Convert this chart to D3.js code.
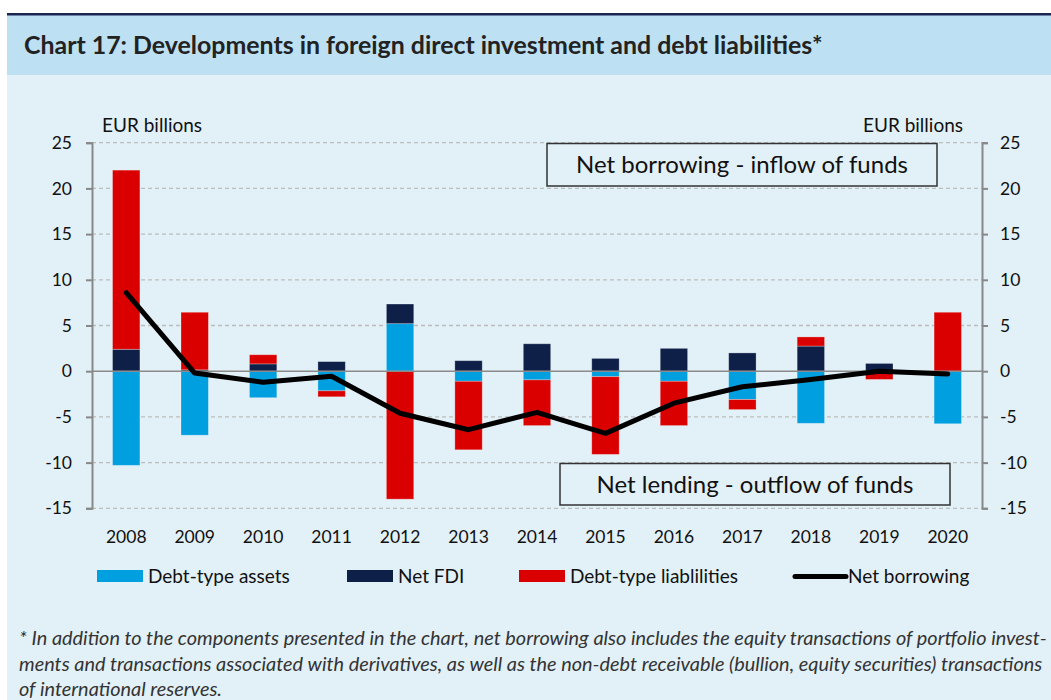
<!DOCTYPE html>
<html>
<head>
<meta charset="utf-8">
<script src="https://cdn.jsdelivr.net/npm/d3@7"></script>
<style>
body{margin:0;background:#fff;}
text{font-family:Lato,"Open Sans",sans-serif;fill:#111;}
</style>
</head>
<body>
<script>
var years=['2008','2009','2010','2011','2012','2013','2014','2015','2016','2017','2018','2019','2020'];
var debtAssets=[-10.3,-7.0,-2.9,-2.15,5.2,-1.1,-0.95,-0.6,-1.1,-3.1,-5.7,0,-5.75];
var netFdi=[2.4,0.15,0.8,1.05,2.15,1.15,3.0,1.4,2.5,2.0,2.75,0.85,0];
var debtLiab=[19.6,6.3,1.0,-0.65,-14.0,-7.5,-5.0,-8.5,-4.85,-1.1,1.0,-0.9,6.45];
var netBorrowing=[8.6,-0.2,-1.2,-0.55,-4.6,-6.4,-4.5,-6.8,-3.5,-1.7,-0.9,0,-0.3];
var yTicks=[-15,-10,-5,0,5,10,15,20,25];

var width=1051,height=700;
var plotLeft=92,plotRight=982,plotTop=142.7,plotBottom=508.3;

var svg=d3.select('body').append('svg')
.attr('width',width)
.attr('height',height);

// background panels
svg.append('rect').attr('x',7).attr('y',15).attr('width',width-7).attr('height',height-15).attr('fill','#e2f0f7');
svg.append('rect').attr('x',7).attr('y',15).attr('width',width-7).attr('height',60).attr('fill','#bde0f2');
svg.append('rect').attr('x',7).attr('y',13).attr('width',width-7).attr('height',2.5).attr('fill','#1c2452');

svg.append('text')
.attr('x',24).attr('y',54)
.style('font-size','24.9px').style('font-weight','bold')
.style('fill','#222')
.text('Chart 17: Developments in foreign direct investment and debt liabilities*');

var x=d3.scaleBand().domain(years).range([plotLeft,plotRight]).paddingInner(0.6).paddingOuter(0.3);
var y=d3.scaleLinear().domain([-15,25]).range([plotBottom,plotTop]);

// gridlines
svg.append('g').selectAll('line')
.data(yTicks.filter(d=>d!==0))
.enter().append('line')
.attr('x1',plotLeft).attr('x2',plotRight)
.attr('y1',d=>y(d)).attr('y2',d=>y(d))
.attr('stroke','#bdbdbd').attr('stroke-width',1.3)
.attr('stroke-dasharray','4,3');

// annotation boxes
var boxes=[
  {t:'Net borrowing - inflow of funds',x:547,y:143.5,w:390,h:42.5},
  {t:'Net lending - outflow of funds',x:560,y:463.5,w:390,h:41.5}
];
var bx=svg.append('g').selectAll('g').data(boxes).enter().append('g');
bx.append('rect')
.attr('x',d=>d.x).attr('y',d=>d.y).attr('width',d=>d.w).attr('height',d=>d.h)
.attr('fill','#e2f0f7').attr('stroke','#333').attr('stroke-width',1.5);
bx.append('text')
.attr('x',d=>d.x+d.w/2).attr('y',d=>d.y+29)
.attr('text-anchor','middle')
.style('font-size','24px')
.text(d=>d.t);

// stacked bars
var table=years.map((yr,i)=>({year:yr,assets:debtAssets[i],fdi:netFdi[i],liab:debtLiab[i]}));
var keys=['assets','fdi','liab'];
var colors={assets:'#009fdf',fdi:'#0e1f48',liab:'#da0000'};
var series=d3.stack().keys(keys).offset(d3.stackOffsetDiverging)(table);

svg.append('g').selectAll('g')
.data(series)
.enter().append('g')
.attr('fill',d=>colors[d.key])
.selectAll('rect')
.data(d=>d)
.enter().append('rect')
.attr('x',d=>x(d.data.year))
.attr('width',x.bandwidth())
.attr('y',d=>y(Math.max(d[0],d[1])))
.attr('height',d=>Math.abs(y(d[0])-y(d[1])))
.attr('stroke','rgba(255,255,255,0.35)')
.attr('stroke-width',0.8);

// zero line
svg.append('line')
.attr('x1',plotLeft).attr('x2',plotRight)
.attr('y1',y(0)).attr('y2',y(0))
.attr('stroke','#8a8a8a').attr('stroke-width',1.5);

// axes (plain hyphen for negatives, like the original)
var fmt=d=>String(d);
var leftAxis=d3.axisLeft(y).tickValues(yTicks).tickFormat(fmt).tickSize(6).tickPadding(14);
var rightAxis=d3.axisRight(y).tickValues(yTicks).tickFormat(fmt).tickSize(6).tickPadding(12);

var gl=svg.append('g').attr('transform','translate('+plotLeft+',0)').call(leftAxis);
var gr=svg.append('g').attr('transform','translate('+plotRight+',0)').call(rightAxis);
[gl,gr].forEach(g=>{
  g.select('.domain').attr('stroke','#888').attr('stroke-width',2);
  g.selectAll('.tick line').attr('stroke','#888').attr('stroke-width',2);
  g.selectAll('.tick text').style('font-size','17.5px').style('font-family','Lato').style('fill','#111');
});

var xAxis=d3.axisBottom(x).tickSize(0).tickPadding(0);
var gx=svg.append('g').attr('transform','translate(0,'+(plotBottom+22)+')').call(xAxis);
gx.select('.domain').remove();
gx.selectAll('.tick text').style('font-size','17.5px').style('font-family','Lato').style('fill','#111');

svg.append('text').attr('x',102).attr('y',132).style('font-size','19px').text('EUR billions');
svg.append('text').attr('x',963).attr('y',132).attr('text-anchor','end').style('font-size','19px').text('EUR billions');

// net borrowing line
var line=d3.line()
.x((d,i)=>x(years[i])+x.bandwidth()/2)
.y(d=>y(d));
svg.append('path')
.datum(netBorrowing)
.attr('d',line)
.attr('fill','none')
.attr('stroke','#000')
.attr('stroke-width',5)
.attr('stroke-linejoin','round')
.attr('stroke-linecap','round');

// legend
var legendItems=[
  {label:'Debt-type assets',color:colors.assets,x:97,type:'rect'},
  {label:'Net FDI',color:colors.fdi,x:347,type:'rect'},
  {label:'Debt-type liablilities',color:colors.liab,x:519,type:'rect'},
  {label:'Net borrowing',color:'#000',x:795,type:'line'}
];
var lg=svg.append('g').selectAll('g').data(legendItems).enter().append('g')
.attr('transform',d=>'translate('+d.x+',570)');
lg.filter(d=>d.type==='rect').append('rect')
.attr('width',46).attr('height',12).attr('fill',d=>d.color);
lg.filter(d=>d.type==='line').append('line')
.attr('x1',0).attr('x2',51).attr('y1',6.5).attr('y2',6.5)
.attr('stroke','#000').attr('stroke-width',5).attr('stroke-linecap','round');
lg.append('text')
.attr('x',d=>d.type==='line'?53:51).attr('y',13)
.style('font-size','19px')
.text(d=>d.label);

// footnote
var notes=[
  '* In addition to the components presented in the chart, net borrowing also includes the equity transactions of portfolio invest-',
  'ments and transactions associated with derivatives, as well as the non-debt receivable (bullion, equity securities) transactions',
  'of international reserves.'
];
svg.append('g').selectAll('text').data(notes).enter().append('text')
.attr('x',19).attr('y',(d,i)=>645+i*25.5)
.style('font-size','19.9px').style('font-style','italic')
.style('fill','#333')
.text(d=>d);
</script>
</body>
</html>
